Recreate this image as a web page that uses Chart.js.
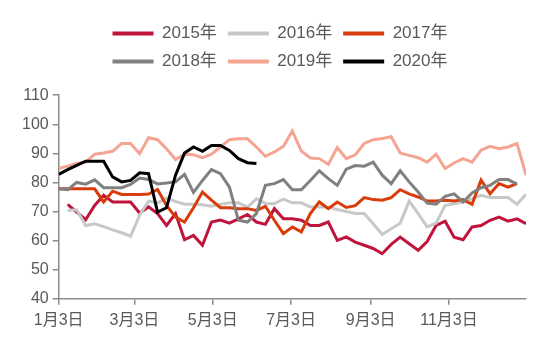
<!DOCTYPE html>
<html>
<head>
<meta charset="utf-8">
<script src="https://cdn.jsdelivr.net/npm/chart.js@4/dist/chart.umd.min.js"></script>
<style>
html, body { margin: 0; padding: 0; background: #fff; }
#wrap { width: 550px; height: 348px; }
</style>
</head>
<body>
<div id="wrap"><canvas id="chart"></canvas></div>
<script>
// weekly readings, x = days since Jan 3
const weekDays = [0, 7, 14, 21, 28, 35, 42, 49, 56, 63, 70, 77, 84, 91, 98, 105, 112, 119, 126, 133,
  140, 147, 154, 161, 168, 175, 182, 189, 196, 203, 210, 217, 224, 231, 238, 245, 252, 259, 266, 273,
  280, 287, 294, 301, 308, 315, 322, 329, 336, 343, 350, 357, 364];
const tickDays = [0, 59, 120, 181, 243, 304];
const tickLabels = ['1月3日', '3月3日', '5月3日', '7月3日', '9月3日', '11月3日'];

const seriesNames = ['2015年', '2016年', '2017年', '2018年', '2019年', '2020年'];
const seriesColors = ['#C0143C', '#C8C8C8', '#DA3B0B', '#808080', '#F4A491', '#000000'];

const y2015 = [null, 72.5, 69.8, 67.2, 72.1, 75.6, 73.3, 73.3, 73.3, 69.5, 71.6, 69.3, 65.2, 69.3, 60.3, 61.8, 58.4, 66.4, 67.1, 66,
  67.5, 69, 66.4, 65.6, 71, 67.5, 67.5, 67, 65.2, 65.2, 66.4, 60.1, 61.3, 59.5, 58.4, 57.3, 55.5, 58.7, 61.2, 58.9,
  56.7, 59.7, 65.2, 66.7, 61.2, 60.3, 64.7, 65.2, 67, 68.1, 66.7, 67.5, 65.8];
const y2016 = [null, 70.4, 70.6, 65.2, 65.8, 64.8, 63.7, 62.7, 61.5, 68.7, 73.6, 73, 74.6, 73.5, 72.5, 72.5, 72.3, 71.8, 72.5, 73,
  73, 71.5, 74.4, 72.8, 72.7, 74.3, 73, 73, 71.6, 71.6, 71.6, 70.7, 70, 69.3, 69.3, 65.8, 62.1, 64.1, 66, 73.6,
  69.3, 64.7, 66, 72.1, 72.7, 73.3, 74.4, 75.6, 74.8, 74.8, 74.8, 72.5, 75.9];
const y2017 = [77.8, 77.8, 77.8, 77.8, 77.8, 73.3, 77, 75.9, 75.9, 75.9, 76, 77.6, 72.1, 68.1, 66.4, 71.3, 76.7, 73.9, 71.3, 71.3,
  71, 71, 70.4, 71.8, 67, 62.4, 64.7, 63, 69.3, 73.3, 71, 73.3, 71.4, 72, 74.8, 74.1, 73.9, 74.8, 77.5, 76.1,
  75, 73.6, 73.6, 73.9, 73.6, 74.1, 72.5, 80.8, 76.1, 79.6, 78.4, 79.6, null];
const y2018 = [77.8, 77.5, 80, 79.4, 80.9, 78.2, 78.2, 78.2, 79.3, 81.5, 81, 79.5, 79.8, 80.2, 82.8, 76.6, 80.7, 84.4, 83, 78.4,
  67, 66.4, 69.3, 79, 79.6, 81, 77.5, 77.5, 80.7, 84, 81.3, 79, 84.6, 85.8, 85.6, 87, 82.5, 79.6, 84, 80.2,
  76.7, 72.9, 72.5, 75.2, 76.1, 73.3, 76.4, 78.2, 79, 81, 81, 79.4, null];
const y2019 = [84.8, 85.6, 86.5, 87, 89.7, 90.1, 90.7, 93.4, 93.4, 89.9, 95.4, 94.7, 91.6, 87.9, 89.7, 89.5, 88.5, 89.7, 92.2, 94.7,
  95, 95, 92.2, 89, 90.5, 92.4, 97.7, 90.8, 88.4, 88.2, 86.2, 92, 88.2, 89.5, 93.4, 94.7, 95.1, 95.7, 90.1, 89.3,
  88.5, 87, 89.7, 84.8, 86.7, 88.2, 87, 91.1, 92.4, 91.6, 92.2, 93.4, 82.5];
const y2020 = [82.8, 84.4, 85.9, 87.3, 87.3, 87.3, 81.9, 80.2, 80.7, 83.3, 83, 69.8, 71.3, 82.5, 90.1, 92.2, 90.7, 92.7, 92.7, 91,
  88.2, 86.8, 86.5];

const allSeries = [y2015, y2016, y2017, y2018, y2019, y2020];

const FONT = '"Liberation Sans", Arial, "Noto Sans CJK SC", sans-serif';
const AXIS = '#8C8C8C';
const TEXT = '#595959';

const datasets = allSeries.map((vals, k) => ({
  label: seriesNames[k],
  data: vals.map((v, i) => ({ x: weekDays[i], y: v })),
  borderColor: seriesColors[k],
  backgroundColor: seriesColors[k],
  borderWidth: 3,
  pointRadius: 0,
  tension: 0,
  order: allSeries.length - k
}));

// keep three legend items per row, centred
const legendRows = {
  id: 'legendRows',
  afterLayout(chart) {
    const lg = chart.legend;
    const w = 420;
    lg.maxWidth = w;
    lg.fit();
    lg.left = (chart.width - w) / 2 + 5;
    lg.right = lg.left + w;
    lg.width = w;
  }
};

new Chart(document.getElementById('chart'), {
  type: 'line',
  data: { datasets: datasets },
  plugins: [legendRows],
  options: {
    responsive: true,
    maintainAspectRatio: false,
    animation: false,
    layout: { padding: { top: 14, left: 18, right: 24, bottom: 12 } },
    plugins: {
      tooltip: { enabled: false },
      // empty title used as a gap between legend and plot
      title: { display: true, text: ' ', font: { size: 1 }, padding: { top: 0, bottom: 14 } },
      legend: {
        position: 'top',
        weight: 3000,
        labels: {
          usePointStyle: true,
          pointStyle: 'line',
          pointStyleWidth: 41,
          padding: 11,
          color: TEXT,
          font: { family: FONT, size: 17 },
          sort: (a, b) => a.datasetIndex - b.datasetIndex,
          generateLabels(chart) {
            const items = Chart.defaults.plugins.legend.labels.generateLabels(chart);
            items.forEach(it => { it.lineWidth = 4; });
            return items;
          }
        }
      }
    },
    scales: {
      x: {
        type: 'linear',
        min: 0,
        max: 364,
        afterBuildTicks(scale) {
          scale.ticks = tickDays.map(d => ({ value: d }));
        },
        ticks: {
          autoSkip: false,
          maxRotation: 0,
          padding: 6,
          color: TEXT,
          font: { family: FONT, size: 16 },
          callback: (v) => tickLabels[tickDays.indexOf(v)]
        },
        grid: { drawOnChartArea: false, drawTicks: true, tickLength: 6, color: AXIS, lineWidth: 1.5 },
        border: { display: true, color: AXIS, width: 1.5 }
      },
      y: {
        min: 40,
        max: 110,
        ticks: {
          stepSize: 10,
          padding: 4,
          color: TEXT,
          font: { family: FONT, size: 16 }
        },
        grid: { drawOnChartArea: false, drawTicks: true, tickLength: 6, color: AXIS, lineWidth: 1.5 },
        border: { display: true, color: AXIS, width: 1.5 }
      }
    }
  }
});
</script>
</body>
</html>
